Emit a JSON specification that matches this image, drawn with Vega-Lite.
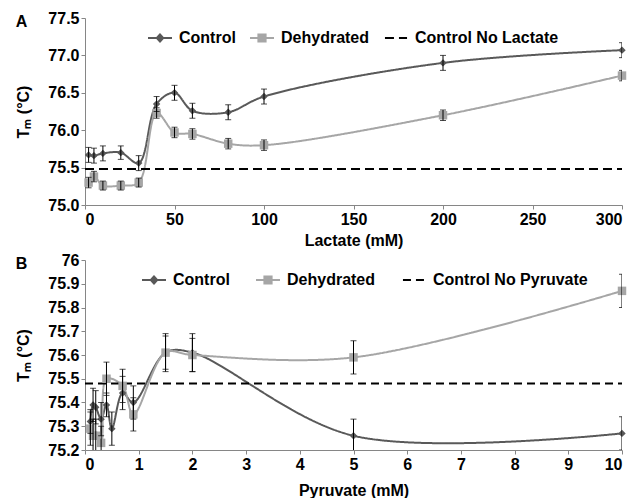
{
  "$schema": "https://vega.github.io/schema/vega-lite/v6.json",
  "padding": {"left": 15, "top": 10, "right": 0, "bottom": 0},
  "spacing": 4,
  "datasets": {
    "lac": [
      {"conc": 2, "tm": 75.67, "err": 0.1, "series": "Control"},
      {"conc": 5, "tm": 75.66, "err": 0.1, "series": "Control"},
      {"conc": 10, "tm": 75.69, "err": 0.1, "series": "Control"},
      {"conc": 20, "tm": 75.7, "err": 0.09, "series": "Control"},
      {"conc": 30, "tm": 75.56, "err": 0.1, "series": "Control"},
      {"conc": 40, "tm": 76.35, "err": 0.1, "series": "Control"},
      {"conc": 50, "tm": 76.5, "err": 0.1, "series": "Control"},
      {"conc": 60, "tm": 76.26, "err": 0.1, "series": "Control"},
      {"conc": 80, "tm": 76.24, "err": 0.1, "series": "Control"},
      {"conc": 100, "tm": 76.45, "err": 0.1, "series": "Control"},
      {"conc": 200, "tm": 76.9, "err": 0.1, "series": "Control"},
      {"conc": 300, "tm": 77.07, "err": 0.1, "series": "Control"},
      {"conc": 2, "tm": 75.3, "err": 0.07, "series": "Dehydrated"},
      {"conc": 5, "tm": 75.38, "err": 0.07, "series": "Dehydrated"},
      {"conc": 10, "tm": 75.26, "err": 0.06, "series": "Dehydrated"},
      {"conc": 20, "tm": 75.26, "err": 0.06, "series": "Dehydrated"},
      {"conc": 30, "tm": 75.3, "err": 0.06, "series": "Dehydrated"},
      {"conc": 40, "tm": 76.23, "err": 0.07, "series": "Dehydrated"},
      {"conc": 50, "tm": 75.97, "err": 0.07, "series": "Dehydrated"},
      {"conc": 60, "tm": 75.95, "err": 0.07, "series": "Dehydrated"},
      {"conc": 80, "tm": 75.82, "err": 0.07, "series": "Dehydrated"},
      {"conc": 100, "tm": 75.8, "err": 0.07, "series": "Dehydrated"},
      {"conc": 200, "tm": 76.2, "err": 0.07, "series": "Dehydrated"},
      {"conc": 300, "tm": 76.73, "err": 0.07, "series": "Dehydrated"},
      {"conc": 0, "tm": 75.48, "series": "Control No Lactate"},
      {"conc": 300, "tm": 75.48, "series": "Control No Lactate"}
    ],
    "pyr": [
      {"conc": 0.1, "tm": 75.32, "err": 0.05, "series": "Control"},
      {"conc": 0.15, "tm": 75.39, "err": 0.07, "series": "Control"},
      {"conc": 0.2, "tm": 75.38, "err": 0.07, "series": "Control"},
      {"conc": 0.3, "tm": 75.33, "err": 0.07, "series": "Control"},
      {"conc": 0.4, "tm": 75.39, "err": 0.05, "series": "Control"},
      {"conc": 0.5, "tm": 75.29, "err": 0.07, "series": "Control"},
      {"conc": 0.7, "tm": 75.44, "err": 0.07, "series": "Control"},
      {"conc": 0.9, "tm": 75.4, "err": 0.07, "series": "Control"},
      {"conc": 1.5, "tm": 75.61, "err": 0.08, "series": "Control"},
      {"conc": 2, "tm": 75.61, "err": 0.08, "series": "Control"},
      {"conc": 5, "tm": 75.26, "err": 0.07, "series": "Control"},
      {"conc": 10, "tm": 75.27, "err": 0.07, "series": "Control"},
      {"conc": 0.1, "tm": 75.29, "err": 0.07, "series": "Dehydrated"},
      {"conc": 0.15, "tm": 75.26, "err": 0.07, "series": "Dehydrated"},
      {"conc": 0.2, "tm": 75.26, "err": 0.07, "series": "Dehydrated"},
      {"conc": 0.3, "tm": 75.23, "err": 0.07, "series": "Dehydrated"},
      {"conc": 0.4, "tm": 75.5, "err": 0.07, "series": "Dehydrated"},
      {"conc": 0.7, "tm": 75.47, "err": 0.07, "series": "Dehydrated"},
      {"conc": 0.9, "tm": 75.35, "err": 0.07, "series": "Dehydrated"},
      {"conc": 1.5, "tm": 75.61, "err": 0.07, "series": "Dehydrated"},
      {"conc": 2, "tm": 75.6, "err": 0.07, "series": "Dehydrated"},
      {"conc": 5, "tm": 75.59, "err": 0.07, "series": "Dehydrated"},
      {"conc": 10, "tm": 75.87, "err": 0.07, "series": "Dehydrated"},
      {"conc": 0, "tm": 75.48, "series": "Control No Pyruvate"},
      {"conc": 10, "tm": 75.48, "series": "Control No Pyruvate"}
    ]
  },
  "vconcat": [
    {
      "width": 537,
      "height": 187,
      "data": {"name": "lac"},
      "title": {"text": "A", "anchor": "start", "frame": "bounds", "fontSize": 16, "fontWeight": "bold", "font": "Liberation Sans", "color": "#000", "dy": 20, "offset": 0},
      "encoding": {
        "x": {"field": "conc", "type": "quantitative", "scale": {"domain": [0, 300], "nice": false}, "axis": {"values": [0, 50, 100, 150, 200, 250, 300], "title": "Lactate (mM)", "titlePadding": 5}},
        "y": {"field": "tm", "type": "quantitative", "scale": {"domain": [75, 77.5], "nice": false, "zero": false}, "axis": {"values": [75, 75.5, 76, 76.5, 77, 77.5], "format": ".1f", "title": "Tₘ (°C)", "titlePadding": 16}}
      },
      "layer": [
        {
          "mark": {"type": "line", "interpolate": "catmull-rom", "strokeWidth": 2},
          "encoding": {
            "color": {"field": "series", "type": "nominal", "scale": {"domain": ["Control", "Dehydrated", "Control No Lactate"], "range": ["#595959", "#a6a6a6", "#000000"]},
              "legend": {"title": null, "orient": "none", "direction": "horizontal", "legendX": 62, "legendY": 7, "padding": 0, "columnPadding": 10, "labelOffset": 6, "symbolSize": 576, "labelFont": "Liberation Sans", "labelFontSize": 16, "labelFontWeight": "bold", "labelColor": "#000",
                "encode": {"symbols": {"update": {
                  "shape": {"signal": "datum.value === 'Control' ? 'M-1,0H1M0,-0.3L0.27,0L0,0.3L-0.27,0Z' : datum.value === 'Dehydrated' ? 'M-1,0H1M-0.3,-0.3H0.3V0.3H-0.3Z' : 'M-0.92,0H0.92'"},
                  "fill": {"signal": "datum.value === 'Control' ? '#595959' : datum.value === 'Dehydrated' ? '#a6a6a6' : 'transparent'"},
                  "stroke": {"signal": "datum.value === 'Control' ? '#595959' : datum.value === 'Dehydrated' ? '#a6a6a6' : '#000000'"},
                  "strokeDash": {"signal": "datum.value === 'Control No Lactate' ? [9, 4] : [1, 0]"},
                  "strokeWidth": {"value": 2},
                  "opacity": {"value": 1}
                }}}}},
            "strokeDash": {"field": "series", "type": "nominal", "scale": {"domain": ["Control", "Dehydrated", "Control No Lactate"], "range": [[1, 0], [1, 0], [9, 5]]}, "legend": null}
          }
        },
        {
          "transform": [{"filter": "datum.series !== 'Control No Lactate'"}],
          "mark": {"type": "point", "filled": true, "opacity": 1},
          "encoding": {
            "color": {"field": "series", "type": "nominal"},
            "shape": {"field": "series", "type": "nominal", "scale": {"domain": ["Control", "Dehydrated"], "range": ["diamond", "square"]}, "legend": null},
            "size": {"field": "series", "type": "nominal", "scale": {"domain": ["Control", "Dehydrated"], "range": [55, 72]}, "legend": null}
          }
        },
        {
          "transform": [{"filter": "datum.series !== 'Control No Lactate'"}],
          "mark": {"type": "errorbar", "ticks": {"size": 6, "thickness": 1, "color": "#000"}, "rule": {"strokeWidth": 1, "color": "#000"}, "clip": true},
          "encoding": {
            "yError": {"field": "err"}
          }
        }
      ]
    },
    {
      "width": 537,
      "height": 190,
      "data": {"name": "pyr"},
      "title": {"text": "B", "anchor": "start", "frame": "bounds", "fontSize": 16, "fontWeight": "bold", "font": "Liberation Sans", "color": "#000", "dy": 20, "offset": 0},
      "encoding": {
        "x": {"field": "conc", "type": "quantitative", "scale": {"domain": [0, 10], "nice": false}, "axis": {"values": [0, 1, 2, 3, 4, 5, 6, 7, 8, 9, 10], "title": "Pyruvate (mM)", "titlePadding": 10}},
        "y": {"field": "tm", "type": "quantitative", "scale": {"domain": [75.2, 76], "nice": false, "zero": false}, "axis": {"values": [75.2, 75.3, 75.4, 75.5, 75.6, 75.7, 75.8, 75.9, 76], "format": ".1~f", "title": "Tₘ (°C)", "titlePadding": 16}}
      },
      "layer": [
        {
          "mark": {"type": "line", "interpolate": "catmull-rom", "strokeWidth": 2},
          "encoding": {
            "color": {"field": "series", "type": "nominal", "scale": {"domain": ["Control", "Dehydrated", "Control No Pyruvate"], "range": ["#595959", "#a6a6a6", "#000000"]},
              "legend": {"title": null, "orient": "none", "direction": "horizontal", "legendX": 56, "legendY": 7, "padding": 0, "columnPadding": 22, "labelOffset": 6, "symbolSize": 576, "labelFont": "Liberation Sans", "labelFontSize": 16, "labelFontWeight": "bold", "labelColor": "#000",
                "encode": {"symbols": {"update": {
                  "shape": {"signal": "datum.value === 'Control' ? 'M-1,0H1M0,-0.3L0.27,0L0,0.3L-0.27,0Z' : datum.value === 'Dehydrated' ? 'M-1,0H1M-0.3,-0.3H0.3V0.3H-0.3Z' : 'M-0.92,0H0.92'"},
                  "fill": {"signal": "datum.value === 'Control' ? '#595959' : datum.value === 'Dehydrated' ? '#a6a6a6' : 'transparent'"},
                  "stroke": {"signal": "datum.value === 'Control' ? '#595959' : datum.value === 'Dehydrated' ? '#a6a6a6' : '#000000'"},
                  "strokeDash": {"signal": "datum.value === 'Control No Pyruvate' ? [9, 4] : [1, 0]"},
                  "strokeWidth": {"value": 2},
                  "opacity": {"value": 1}
                }}}}},
            "strokeDash": {"field": "series", "type": "nominal", "scale": {"domain": ["Control", "Dehydrated", "Control No Pyruvate"], "range": [[1, 0], [1, 0], [8, 5]]}, "legend": null}
          }
        },
        {
          "transform": [{"filter": "datum.series !== 'Control No Pyruvate'"}],
          "mark": {"type": "point", "filled": true, "opacity": 1},
          "encoding": {
            "color": {"field": "series", "type": "nominal"},
            "shape": {"field": "series", "type": "nominal", "scale": {"domain": ["Control", "Dehydrated"], "range": ["diamond", "square"]}, "legend": null},
            "size": {"field": "series", "type": "nominal", "scale": {"domain": ["Control", "Dehydrated"], "range": [55, 72]}, "legend": null}
          }
        },
        {
          "transform": [{"filter": "datum.series !== 'Control No Pyruvate'"}],
          "mark": {"type": "errorbar", "ticks": {"size": 6, "thickness": 1, "color": "#000"}, "rule": {"strokeWidth": 1, "color": "#000"}, "clip": true},
          "encoding": {
            "yError": {"field": "err"}
          }
        }
      ]
    }
  ],
  "resolve": {"scale": {"color": "independent", "strokeDash": "independent", "shape": "independent", "size": "independent"}, "legend": {"color": "independent"}},
  "config": {
    "view": {"stroke": null},
    "axis": {"grid": false, "domainColor": "#868686", "tickColor": "#868686", "tickSize": 4, "labelPadding": 2, "labelFont": "Liberation Sans", "labelFontSize": 16, "labelFontWeight": "bold", "labelColor": "#000", "titleFont": "Liberation Sans", "titleFontSize": 16, "titleFontWeight": "bold", "titleColor": "#000"},
    "title": {"font": "Liberation Sans"}
  }
}
